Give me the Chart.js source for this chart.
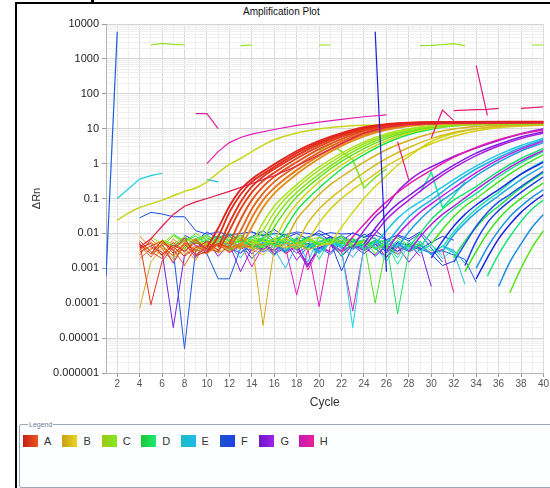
<!DOCTYPE html>
<html>
<head>
<meta charset="utf-8">
<title>Amplification Plot</title>
<script src="https://cdn.jsdelivr.net/npm/chart.js@4.4.1/dist/chart.umd.min.js"></script>
<style>
    html, body { margin: 0; padding: 0; background: #fff; }
    body { width: 550px; height: 488px; position: relative; overflow: hidden; font-family: "Liberation Sans", Arial, sans-serif; }
    #frame { position: absolute; left: 15px; top: 2px; width: 560px; height: 500px; border-top: 2px solid #000; border-left: 2px solid #000; }
    #mark { position: absolute; left: 91px; top: 0; width: 3px; height: 3px; background: #000; }
    #title { position: absolute; left: 243px; top: 6px; font-size: 10px; line-height: 12px; color: #111; }
    #plot { position: absolute; left: 0; top: 0; }
    #legend { position: absolute; left: 19px; top: 424px; width: 545px; height: 62px; border: 1px solid #9ba7b6; border-radius: 2px; background: #fdfeff; }
    #legend .cap { position: absolute; left: 8px; top: -5px; font-size: 7px; line-height: 9px; padding: 0 1px; background: #fff; color: #6a7d9c; }
    #legend .item { position: absolute; top: 10px; height: 12px; }
    #legend .swatch { position: absolute; left: 0; top: 0; width: 15px; height: 12px; }
    #legend .name { position: absolute; left: 21px; top: -1px; font-size: 11px; line-height: 14px; color: #333; }
</style>
</head>
<body>
<div id="frame"></div>
<div id="mark"></div>
<div id="title">Amplification Plot</div>
<canvas id="plot" width="550" height="420"></canvas>
<div id="legend"><span class="cap">Legend</span></div>

<script>
// Plate rows shown in the legend
const rows = ['A', 'B', 'C', 'D', 'E', 'F', 'G', 'H'];

// Baseline noise before take-off: [well, first cycle, ΔRn per cycle]
const baselineNoise = [
    ['A1', 4, [3.8e-3, 5.2e-3, 2.4e-3, 4.6e-3, 3.1e-3, 5.5e-3, 3.6e-3]],
    ['A2', 4, [4.9e-3, 2.6e-3, 6.3e-3, 3.2e-3, 7.4e-3, 2.3e-3, 3.0e-3]],
    ['A3', 4, [5.5e-3, 9e-5, 1.6e-3, 4.1e-3, 2.2e-3, 3.9e-3, 5.8e-3, 3.3e-3]],
    ['A4', 4, [6.1e-3, 3.0e-3, 1.9e-3, 5.6e-3, 2.9e-3, 6.6e-3, 3.6e-3, 3.0e-3]],
    ['A5', 4, [2.9e-3, 4.4e-3, 5.9e-3, 2.7e-3, 4.8e-3, 2.5e-3, 3.9e-3, 5.1e-3, 4.0e-3]],
    ['A7', 4, [4.6e-3, 2.1e-3, 5.2e-3, 3.5e-3, 1.2e-3, 4.2e-3, 3.1e-3, 4.7e-3, 3.0e-3, 4.6e-3]],
    ['A8', 4, [2.4e-3, 6.8e-3, 3.7e-3, 1.5e-3, 4.3e-3, 7.0e-3, 2.8e-3, 5.0e-3, 4.0e-3]],
    ['A9', 4, [1.9e-3, 3.6e-3, 4.5e-3, 2.2e-3, 5.4e-3, 3.4e-3, 2.6e-3, 4.9e-3, 3.7e-3, 5.0e-3, 4.0e-3]],
    ['A11', 4, [3.3e-3, 5.7e-3, 2.8e-3, 3.9e-3, 6.2e-3, 2.9e-3, 4.6e-3, 3.4e-3, 5.3e-3, 3.8e-3, 4.4e-3, 5.0e-3]],
    ['A12', 4, [8.2e-3, 4.0e-3, 2.3e-3, 6.9e-3, 3.8e-3, 1.7e-3, 5.9e-3, 3.2e-3, 6.1e-3, 4.0e-3]],
    ['B1', 4, [7e-5, 1.5e-3, 3.8e-3, 2.4e-3, 4.9e-3, 3.1e-3, 5.4e-3, 2.7e-3, 4.5e-3, 3.6e-3, 5.9e-3, 2.3e-5, 3.9e-3, 5.2e-3, 4.4e-3]],
    ['B4', 5, [2.6e-3, 4.3e-3, 1.8e-3, 5.0e-3, 3.5e-3, 4.7e-3, 2.9e-3, 3.6e-3, 5.2e-3, 4.0e-3, 3.2e-3, 5.5e-3, 4.3e-3, 3.7e-3, 5.0e-3]],
    ['B6', 4, [4.8e-3, 3.4e-3, 5.6e-3, 4.0e-3, 2.5e-3, 4.4e-3, 3.2e-3, 5.7e-3, 3.0e-3, 4.9e-3, 3.6e-3, 2.4e-3, 4.7e-3, 3.9e-3, 5.1e-3, 3.3e-3, 4.5e-3, 5.0e-3]],
    ['C1', 5, [4.5e-3, 6.2e-3, 3.9e-3, 5.8e-3, 7.1e-3, 4.6e-3, 6.5e-3, 5.2e-3, 7.6e-3, 4.9e-3, 6.0e-3, 5.4e-3, 7.3e-3, 4.4e-3, 6.8e-3, 5.5e-3, 4.8e-3]],
    ['C3', 5, [7.8e-3, 5.1e-3, 9.2e-3, 4.3e-3, 6.7e-3, 8.8e-3, 3.9e-3, 7.1e-3, 5.3e-3, 4.0e-3]],
    ['C4', 6, [6.5e-3, 5.0e-3, 8.0e-3, 5.6e-3, 4.2e-3, 6.9e-3, 5.3e-3, 7.9e-3, 6.1e-3, 4.5e-3, 7.0e-3, 5.8e-3, 3.9e-3, 6.4e-3, 7.7e-3, 5.1e-3, 6.6e-3, 4.7e-3, 5.9e-3]],
    ['C7', 7, [5.2e-3, 3.5e-3, 6.0e-3, 8.5e-3, 5.5e-3, 4.1e-3, 7.2e-3, 6.3e-3, 4.0e-3, 5.7e-3, 7.4e-3, 5.0e-3, 6.7e-3, 4.3e-3, 5.6e-3, 8.1e-3, 5.3e-3, 6.1e-3, 3.6e-3, 5.5e-3]],
    ['C8', 6, [4.1e-3, 8.6e-3, 5.7e-3, 1.0e-2, 6.3e-3, 4.7e-3, 8.0e-3, 5.9e-3, 3.7e-3, 4.0e-3]],
    ['C10', 8, [3.8e-3, 5.9e-3, 4.7e-3, 6.8e-3, 3.3e-3, 5.1e-3, 6.5e-3, 4.6e-3, 7.3e-3, 5.6e-3, 3.5e-3, 6.2e-3, 4.9e-3, 7.0e-3, 5.4e-3, 4.0e-3, 6.0e-3, 1.0e-4, 4.4e-3, 2.6e-3]],
    ['C11', 12, [6.3e-3, 8.9e-3, 4.6e-3, 7.1e-3, 5.3e-3, 9.6e-3, 6.0e-3, 3.4e-3, 7.7e-3, 5.5e-3, 8.4e-3, 4.2e-3, 6.6e-3, 2.6e-3, 5.8e-3, 7.4e-3, 4.4e-3, 5.0e-3]],
    ['D2', 6, [5.8e-3, 4.4e-3, 7.0e-3, 5.1e-3, 6.4e-3, 8.3e-3, 4.9e-3, 6.1e-3, 5.5e-3, 7.2e-3, 4.6e-3, 6.8e-3, 5.3e-3, 7.5e-3, 4.8e-3, 6.2e-3, 5.0e-3, 6.9e-3, 4.5e-3, 5.7e-3, 6.3e-3]],
    ['D3', 7, [9.5e-3, 6.1e-3, 8.3e-3, 5.0e-3, 7.7e-3, 9.9e-3, 6.6e-3, 4.4e-3, 3.9e-3]],
    ['D5', 9, [6.0e-3, 7.5e-3, 4.8e-3, 6.6e-3, 5.2e-3, 8.2e-3, 5.9e-3, 4.5e-3, 6.9e-3, 5.4e-3, 7.8e-3, 4.9e-3, 6.3e-3, 5.7e-3, 7.1e-3, 4.2e-3, 6.5e-3, 5.5e-3, 5.0e-5, 3.0e-3, 4.6e-3]],
    ['D6', 10, [5.0e-3, 8.8e-3, 6.2e-3, 4.0e-3, 7.6e-3, 9.4e-3, 5.5e-3, 3.1e-3, 8.0e-3, 6.6e-3, 4.5e-3, 7.2e-3, 2.2e-3, 6.0e-3, 8.5e-3, 3.6e-3, 5.2e-3, 4.0e-3]],
    ['D8', 10, [4.1e-3, 6.7e-3, 5.3e-3, 3.7e-3, 6.0e-3, 7.6e-3, 4.4e-3, 5.8e-3, 6.9e-3, 3.9e-3, 5.5e-3, 7.3e-3, 4.8e-3, 6.4e-3, 3.6e-3, 5.9e-3, 4.5e-3, 2.0e-3, 6.1e-3, 3.2e-3, 4.8e-3, 2.4e-3]],
    ['D9', 11, [7.3e-3, 4.9e-3, 9.0e-3, 6.1e-3, 3.8e-3, 7.0e-3, 8.6e-3, 5.2e-3, 6.7e-3, 1.8e-3, 6.4e-3, 8.0e-3, 4.7e-3, 5.9e-3, 7.5e-3, 3.3e-3, 6.2e-3, 4.0e-3]],
    ['D11', 12, [5.5e-3, 4.0e-3, 6.8e-3, 5.0e-3, 7.2e-3, 4.6e-3, 6.1e-3, 3.8e-3, 5.9e-3, 7.0e-3, 4.3e-3, 5.6e-3, 6.6e-3, 3.4e-3, 5.2e-3, 1.3e-3, 4.7e-3, 6.0e-3, 3.1e-3, 4.2e-3, 2.7e-3]],
    ['E1', 8, [4.4e-3, 5.6e-3, 3.6e-3, 6.2e-3, 4.8e-3, 2.9e-3, 5.5e-3, 4.1e-3, 6.6e-3, 3.4e-3, 5.0e-3, 4.5e-3, 2.6e-3, 5.8e-3, 3.9e-3, 2.0e-5, 4.6e-3, 5.3e-3, 3.2e-3, 6.0e-3, 4.0e-3, 2.8e-3, 4.9e-3, 1.9e-3, 3.5e-3]],
    ['E3', 9, [7.0e-3, 9.1e-3, 5.4e-3, 8.2e-3, 6.0e-3, 3.3e-3, 7.6e-3, 9.6e-3, 5.2e-3, 6.8e-3, 1.5e-3, 8.4e-3, 5.6e-3, 7.3e-3, 4.2e-3, 5.0e-3]],
    ['E4', 12, [5.0e-3, 3.8e-3, 6.4e-3, 4.4e-3, 2.3e-3, 5.3e-3, 4.0e-3, 6.1e-3, 3.0e-3, 5.6e-3, 4.7e-3, 3.3e-3, 6.0e-3, 4.2e-3, 1.6e-3, 5.1e-3, 3.6e-3, 5.5e-3, 2.4e-3, 4.3e-3, 3.0e-3, 3.5e-4]],
    ['E6', 10, [3.0e-3, 6.1e-3, 4.3e-3, 2.0e-3, 5.4e-3, 7.0e-3, 3.6e-3, 1.0e-3, 4.8e-3, 6.4e-3, 2.7e-3, 5.2e-3, 4.0e-3, 7.4e-3, 3.3e-3, 5.0e-3]],
    ['E7', 14, [3.7e-3, 5.4e-3, 4.5e-3, 2.8e-3, 6.0e-3, 4.9e-3, 3.4e-3, 5.7e-3, 4.2e-3, 2.1e-3, 5.2e-3, 3.9e-3, 6.3e-3, 4.6e-3, 3.1e-3, 5.0e-3, 2.5e-3, 4.4e-3, 3.3e-3, 1.4e-3]],
    ['F4', 4, [2.8e-2, 4.0e-2, 3.6e-2, 3.0e-2, 3.0e-2, 1.2e-2, 9.5e-3, 1.1e-2, 9.0e-3, 1.0e-2, 1.1e-2, 8.5e-3, 1.0e-2, 9.2e-3, 1.1e-2, 1.0e-2, 8.8e-3, 1.05e-2, 9.6e-3, 1.0e-2, 8.0e-3, 9.0e-3, 6.5e-3]],
    ['F2', 7, [3.1e-3, 5e-6, 3.5e-3, 2.6e-3, 5e-4, 5e-4, 3.8e-3, 5.3e-3, 2.9e-3, 4.6e-3, 6.1e-3, 3.4e-3, 5.2e-3, 4.0e-3, 2.5e-3, 5.6e-3, 3.7e-3, 4.8e-3, 2.2e-3, 4.3e-3, 3.0e-3, 5.1e-3, 3.6e-3, 2.7e-3, 3.2e-3, 2.4e-3, 1.8e-3, 4.0e-4]],
    ['F3', 8, [8.9e-3, 6.0e-3, 1.1e-2, 7.2e-3, 9.6e-3, 5.8e-3, 8.1e-3, 1.2e-2, 6.5e-3, 9.0e-3, 4.9e-3, 7.9e-3, 1.0e-2, 6.2e-3, 8.6e-3, 5.5e-3, 9.4e-3, 7.0e-3, 4.1e-3, 8.3e-3, 6.1e-3, 9.8e-3, 3.8e-3, 1.5e-3]],
    ['F5', 10, [6.2e-3, 4.4e-3, 5.8e-3, 7.5e-3, 4.0e-3, 6.6e-3, 5.1e-3, 3.2e-3, 6.9e-3, 4.7e-3, 5.5e-3, 7.8e-3, 3.6e-3, 5.9e-3, 4.2e-3, 6.4e-3, 2.8e-3, 5.3e-3, 4.6e-3, 3.4e-3, 5.7e-3]],
    ['F6', 9, [2.3e-3, 4.5e-3, 6.9e-3, 3.4e-3, 5.2e-3, 1.9e-3, 4.0e-3, 6.3e-3, 2.8e-3, 7.3e-3, 4.6e-3, 3.0e-3, 5.8e-3, 8.4e-4, 4.4e-3, 6.6e-3, 3.7e-3, 2.1e-3, 5.5e-3, 3.2e-3, 4.7e-3, 2.5e-3, 1.2e-3, 1.6e-3]],
    ['F8', 14, [1.1e-2, 8.5e-3, 1.3e-2, 7.5e-3, 1.0e-2, 6.8e-3, 1.2e-2, 8.2e-3, 5.9e-3, 1.05e-2, 7.6e-3, 1.25e-2, 6.6e-3, 9.0e-3, 7.0e-3, 1.1e-2, 5.5e-3, 8.2e-3, 6.4e-3]],
    ['G1', 5, [4.2e-3, 2.9e-3, 2.0e-5, 2.4e-3, 4.6e-3, 3.3e-3, 5.0e-3, 3.8e-3, 2.7e-3, 4.9e-3, 3.5e-3, 5.3e-3, 2.9e-3, 4.4e-3, 1.2e-3, 3.9e-3, 5.1e-3, 3.2e-3, 4.5e-3, 2.6e-3, 4.8e-3, 3.6e-3, 5.2e-3, 3.0e-3, 4.1e-3, 3.0e-4]],
    ['G2', 5, [2.5e-3, 4.8e-3, 1.4e-3, 5.6e-3, 3.1e-3, 6.4e-3, 2.2e-3, 4.9e-3, 8.0e-4, 3.8e-3, 5.5e-3, 2.6e-3, 6.0e-3, 3.4e-3, 1.1e-3, 4.7e-3, 2.9e-3, 5.3e-3, 4.0e-3]],
    ['G4', 12, [3.6e-3, 5.4e-3, 2.6e-3, 4.7e-3, 3.3e-3, 5.9e-3, 1.7e-3, 4.3e-3, 3.0e-3, 5.1e-3, 2.3e-3, 4.6e-3, 3.8e-3, 5.6e-3, 2.9e-3, 4.2e-3, 1.5e-3, 3.7e-3]],
    ['G5', 6, [6.6e-3, 3.9e-3, 7.9e-3, 4.6e-3, 2.7e-3, 6.2e-3, 8.7e-3, 3.5e-3, 5.8e-3, 7.2e-3, 2.4e-3, 5.1e-3, 6.9e-3, 3.2e-3, 5.7e-3, 8.1e-3, 4.0e-3]],
    ['G7', 15, [4.9e-3, 3.1e-3, 5.5e-3, 2.7e-3, 4.3e-3, 3.5e-3, 5.8e-3, 2.2e-3, 4.5e-3, 3.2e-3, 5.0e-3, 3.9e-3, 2.5e-3, 4.7e-3]],
    ['H2', 10, [3.5e-3, 5.1e-3, 2.8e-3, 4.4e-3, 3.2e-3, 4.9e-3, 2.5e-3, 4.0e-3, 1.7e-4, 3.6e-3, 8e-5, 4.5e-3, 3.0e-3, 6e-5, 3.9e-3, 2.4e-3, 4.6e-3, 3.1e-3, 5.0e-3, 2.2e-3]],
    ['H4', 8, [5.3e-3, 2.0e-3, 4.6e-3, 6.8e-3, 2.9e-3, 5.0e-3, 1.1e-3, 4.2e-3, 6.0e-3, 3.0e-3, 5.6e-3, 9.0e-4, 3.8e-3, 3.0e-3]],
    ['H6', 14, [4.6e-3, 3.3e-3, 5.5e-3, 2.6e-3, 4.2e-3, 1.3e-3, 3.7e-3, 5.2e-3, 2.9e-3, 4.5e-3, 3.4e-3, 5.0e-3, 2.1e-3, 4.0e-3, 3.1e-3, 4.7e-3, 2.7e-3, 3.5e-3, 2.0e-4]],
];

// Amplification curves from take-off: [well, [[cycle, ΔRn], ...]]
const curvesA = [
    ['A1', [[10, 4e-3], [11, 1.4e-2], [12, 6e-2], [13, 0.18], [14, 0.36], [15, 0.6], [16, 0.95], [18, 2.3], [20, 4.5], [22, 7.5], [24, 11], [26, 13.5], [28, 14.8], [31, 15.5], [40, 15.8]]],
    ['A2', [[10, 3e-3], [11, 8e-3], [12, 4e-2], [13, 0.13], [14, 0.3], [15, 0.5], [16, 0.8], [18, 2], [20, 4], [22, 7], [24, 10.5], [26, 13], [28, 14.5], [31, 15.3], [40, 15.6]]],
    ['A3', [[11, 4e-3], [12, 2e-2], [13, 8e-2], [14, 0.22], [15, 0.42], [16, 0.7], [18, 1.7], [20, 3.6], [22, 6.5], [24, 10], [26, 12.8], [28, 14.2], [31, 15], [40, 15.4]]],
    ['A4', [[11, 3e-3], [12, 1.2e-2], [13, 5e-2], [14, 0.15], [15, 0.32], [16, 0.55], [18, 1.4], [20, 3.1], [22, 5.8], [24, 9.2], [26, 12.2], [28, 13.9], [31, 14.8], [40, 15.2]]],
    ['A6', [[12, 5e-3], [13, 2.5e-2], [14, 9e-2], [15, 0.22], [16, 0.42], [18, 1.1], [20, 2.6], [22, 5], [24, 8.5], [26, 11.6], [28, 13.5], [31, 14.6], [40, 15]]],
    ['A8', [[12, 4e-3], [13, 1.2e-2], [14, 5e-2], [15, 0.14], [16, 0.3], [18, 0.85], [20, 2.1], [22, 4.3], [24, 7.6], [26, 10.8], [28, 13], [31, 14.4], [40, 14.8]]],
    ['A10', [[13, 6e-3], [14, 2.8e-2], [15, 9e-2], [16, 0.2], [18, 0.65], [20, 1.7], [22, 3.7], [24, 6.8], [26, 10], [28, 12.5], [31, 14.2], [40, 14.8]]],
    ['A12', [[13, 4e-3], [14, 1.5e-2], [15, 5.5e-2], [16, 0.14], [18, 0.5], [20, 1.4], [22, 3.2], [24, 6], [26, 9.3], [28, 12], [31, 14], [40, 14.6]]],
];

const curvesB = [
    ['B12', [[2, 2.4e-2], [3, 3.8e-2], [4, 5.5e-2], [5, 7e-2], [6, 9e-2], [7, 0.12], [8, 0.16], [9, 0.2], [10, 0.3], [11, 0.55], [12, 0.95], [13, 1.4], [14, 2.2], [15, 3.4], [16, 4.8], [18, 7.5], [20, 9.8], [22, 11.5], [24, 12.5], [26, 13], [30, 13.5], [40, 14]]],
    ['B2', [[17, 6e-3], [18, 2.5e-2], [19, 6e-2], [20, 0.13], [21, 0.25], [22, 0.42], [24, 1.1], [26, 2.5], [28, 4.6], [30, 7.3], [32, 9.8], [34, 11.6], [36, 12.6], [40, 13.2]]],
    ['B5', [[18, 5e-3], [19, 2e-2], [20, 5e-2], [21, 0.1], [22, 0.18], [24, 0.55], [26, 1.4], [28, 2.9], [30, 5.2], [32, 7.8], [34, 10], [36, 11.6], [38, 12.5], [40, 13]]],
    ['B8', [[19, 6e-3], [20, 2e-2], [21, 5e-2], [22, 0.1], [23, 0.18], [24, 0.3], [26, 0.85], [28, 1.9], [30, 3.7], [32, 6.1], [34, 8.6], [36, 10.6], [38, 11.9], [40, 12.6]]],
    ['B10', [[21, 5e-3], [22, 1.5e-2], [23, 4e-2], [24, 0.1], [25, 0.22], [26, 0.45], [27, 0.9], [28, 1.6], [30, 4.3], [32, 7.3], [34, 9.8], [36, 11.5], [38, 12.4], [40, 12.8]]],
];

const curvesC = [
    ['C2', [[14, 5e-3], [15, 2e-2], [16, 6e-2], [17, 0.13], [18, 0.25], [20, 0.8], [22, 2], [24, 4.2], [26, 7.2], [28, 10], [30, 12.2], [32, 13.4], [35, 14.2], [40, 14.5]]],
    ['C3', [[14, 4e-3], [15, 1.2e-2], [16, 4e-2], [17, 0.1], [18, 0.2], [20, 0.65], [22, 1.7], [24, 3.7], [26, 6.5], [28, 9.4], [30, 11.8], [32, 13.2], [35, 14], [40, 14.4]]],
    ['C5', [[15, 6e-3], [16, 2.5e-2], [17, 7e-2], [18, 0.15], [20, 0.5], [22, 1.4], [24, 3.2], [26, 5.9], [28, 8.9], [30, 11.4], [32, 12.9], [35, 13.9], [40, 14.3]]],
    ['C8', [[15, 4e-3], [16, 1.5e-2], [17, 4.5e-2], [18, 0.11], [20, 0.4], [22, 1.15], [24, 2.7], [26, 5.2], [28, 8.2], [30, 10.9], [32, 12.6], [35, 13.8], [40, 14.2]]],
    ['B11', [[16, 6e-3], [17, 2.5e-2], [18, 7e-2], [20, 0.3], [22, 0.9], [24, 2.2], [26, 4.5], [28, 7.5], [30, 10.3], [32, 12.2], [35, 13.5], [40, 14]]],
    ['D3', [[16, 4e-3], [17, 1.4e-2], [18, 4.5e-2], [19, 0.1], [20, 0.2], [22, 0.7], [24, 1.8], [26, 3.9], [28, 6.8], [30, 9.7], [32, 11.9], [35, 13.4], [40, 14]]],
    ['C6', [[20, 2.4], [21, 3.6], [22, 2.2], [23, 1.3], [24, 0.2], [25, 0.4], [26, 0.7]]],
];

// Late wells, mostly rows D to H
const curvesLate = [
    ['H4', [[22, 3e-3], [23, 8e-3], [24, 1.8e-2], [25, 4e-2], [26, 8e-2], [27, 0.15], [28, 0.26], [30, 0.65], [32, 1.5], [34, 2.9], [36, 4.8], [38, 7], [40, 9.2]]],
    ['G5', [[23, 4e-3], [24, 1.2e-2], [25, 3e-2], [26, 6e-2], [27, 0.16], [28, 0.32], [29, 0.55], [30, 0.8], [32, 1.6], [34, 2.8], [36, 4.6], [38, 7.2], [40, 10]]],
    ['G2', [[24, 5e-3], [25, 1.4e-2], [26, 3.5e-2], [27, 7e-2], [28, 0.12], [30, 0.35], [32, 0.9], [34, 2], [36, 3.6], [38, 5.8], [40, 8.2]]],
    ['G8', [[24, 4e-3], [25, 1e-2], [26, 2.5e-2], [27, 5e-2], [28, 9e-2], [30, 0.28], [32, 0.75], [34, 1.7], [36, 3.2], [38, 5.2], [40, 7.5]]],
    ['E3', [[25, 5e-3], [26, 1.2e-2], [27, 2.7e-2], [28, 5e-2], [29, 8e-2], [30, 0.13], [32, 0.35], [34, 0.85], [36, 1.8], [38, 3.3], [40, 5.3]]],
    ['G11', [[26, 3e-3], [27, 9e-3], [28, 2e-2], [29, 4e-2], [30, 7e-2], [32, 0.2], [34, 0.55], [36, 1.3], [38, 2.6], [40, 4.4]]],
    ['E6', [[26, 5e-3], [27, 1.3e-2], [28, 3e-2], [29, 5.5e-2], [30, 9e-2], [32, 0.27], [34, 0.7], [36, 1.5], [38, 2.9], [40, 4.8]]],
    ['E9', [[27, 4e-3], [28, 1.1e-2], [29, 2.5e-2], [30, 5e-2], [31, 9e-2], [32, 0.15], [34, 0.45], [36, 1.1], [38, 2.3], [40, 4]]],
    ['D6', [[28, 4e-3], [29, 1e-2], [30, 2.5e-2], [31, 5e-2], [32, 9e-2], [33, 0.14], [34, 0.22], [36, 0.6], [38, 1.4], [40, 2.7]]],
    ['G9', [[28, 3e-3], [29, 8e-3], [30, 1.8e-2], [31, 3.5e-2], [32, 6e-2], [34, 0.18], [36, 0.5], [38, 1.2], [40, 2.4]]],
    ['D9', [[29, 4e-3], [30, 1.1e-2], [31, 2.6e-2], [32, 5e-2], [33, 8.5e-2], [34, 0.14], [36, 0.42], [38, 1.05], [40, 2.2]]],
    ['C11', [[30, 5e-3], [31, 1.3e-2], [32, 3e-2], [33, 6e-2], [34, 0.1], [36, 0.3], [38, 0.8], [40, 1.8]]],
    ['F9', [[30, 2e-3], [31, 6e-3], [32, 1.6e-2], [33, 3.5e-2], [34, 6.5e-2], [35, 0.11], [36, 0.18], [38, 0.5], [40, 1.1]]],
    ['D12', [[31, 4e-3], [32, 1.1e-2], [33, 2.5e-2], [34, 5e-2], [35, 9e-2], [36, 0.15], [38, 0.5], [40, 1.2]]],
    ['E8', [[31, 3e-3], [32, 9e-3], [33, 2e-2], [34, 4e-2], [35, 7e-2], [36, 0.12], [38, 0.35], [40, 0.85]]],
    ['F3', [[32, 1.5e-3], [33, 5e-3], [34, 1.6e-2], [35, 4e-2], [36, 8e-2], [37, 0.13], [38, 0.22], [40, 0.6]]],
    ['D4', [[32, 2e-3], [33, 6e-3], [34, 1.5e-2], [35, 3.3e-2], [36, 6e-2], [38, 0.2], [40, 0.55]]],
    ['F6', [[33, 1.2e-3], [34, 6e-3], [35, 2e-2], [36, 4.5e-2], [37, 8.5e-2], [38, 0.15], [40, 0.42]]],
    ['C12', [[33, 8e-4], [34, 3e-3], [35, 1e-2], [36, 2.6e-2], [37, 5.5e-2], [38, 0.1], [39, 0.17], [40, 0.28]]],
    ['E11', [[34, 1e-3], [35, 4e-3], [36, 1.2e-2], [37, 3e-2], [38, 6e-2], [39, 0.11], [40, 0.18]]],
    ['F10', [[34, 5e-4], [35, 2e-3], [36, 7e-3], [37, 1.8e-2], [38, 4e-2], [39, 7.5e-2], [40, 0.13]]],
    ['D7', [[35, 6e-4], [36, 2.5e-3], [37, 8e-3], [38, 2.2e-2], [39, 5e-2], [40, 9e-2]]],
    ['E12', [[36, 3e-4], [37, 1.5e-3], [38, 5e-3], [39, 1.5e-2], [40, 3.5e-2]]],
    ['C9', [[37, 2e-4], [38, 1e-3], [39, 4e-3], [40, 1.2e-2]]],
    ['D10', [[29, 0.15], [30, 0.57], [31, 5.5e-2], [32, 0.12], [33, 0.3]]],
];

// Odd wells: early drifters, spikes and stray segments
const oddTraces = [
    ['H12', [[4, 4e-3], [5, 7e-3], [6, 1.6e-2], [7, 3.5e-2], [8, 6e-2], [9, 8e-2], [10, 0.1], [12, 0.16], [14, 0.27], [16, 0.45], [18, 0.85], [20, 1.8], [22, 3.8], [24, 7.5], [26, 11], [28, 13.2], [32, 14.5], [40, 15]]],
    ['H3', [[10, 1.0], [11, 2.2], [12, 4], [13, 5.6], [14, 7], [16, 9.5], [18, 12.5], [20, 15.5], [22, 18.5], [24, 22], [26, 25]]],
    ['H5', [[9, 27], [10, 27], [11, 10]]],
    ['H8', [[27, 4.2], [28, 0.33]]],
    ['H8', [[30, 5.4], [31, 34], [32, 17]]],
    ['H9', [[32, 33], [33, 34], [34, 35], [35, 36], [36, 38]]],
    ['H7', [[34, 650], [35, 24]]],
    ['H9', [[38, 38], [39, 40], [40, 42]]],
    ['E2', [[2, 0.1], [3, 0.19], [4, 0.36], [5, 0.45], [6, 0.53]]],
    ['E5', [[10, 0.35], [11, 0.3]]],
    ['F1', [[1, 6e-4], [2, 6000]]],
    ['F11', [[25, 6000], [26, 8e-4]]],
];

// Saturated well seen only in short runs near the top
const topSegments = [
    [[5, 2500], [6, 2800], [7, 2600], [8, 2500]],
    [[13, 2400], [14, 2500]],
    [[20, 2500], [21, 2500]],
    [[29, 2400], [30, 2450], [31, 2550], [32, 2750], [33, 2400]],
    [[39, 2500], [40, 2500]],
];

// Hue span of each row, first well to twelfth
const rowHues = { A: [2, 34], B: [46, 64], C: [74, 112], D: [128, 166], E: [184, 206], F: [220, 242], G: [268, 292], H: [306, 346] };

function wellHue(id) {
    const span = rowHues[id[0]];
    const n = parseInt(id.slice(1), 10);
    return span[0] + (span[1] - span[0]) * (n - 1) / 11;
}

function wellColor(id) {
    const light = id[0] === 'B' ? 47 : 50;
    return `hsl(${wellHue(id).toFixed(1)}, 78%, ${light}%)`;
}

function lineSet(well, points, width, smooth) {
    return {
        label: well,
        data: points.map(p => ({ x: p[0], y: p[1] })),
        borderColor: wellColor(well),
        borderWidth: width,
        pointRadius: 0,
        fill: false,
        tension: 0,
        cubicInterpolationMode: smooth ? 'monotone' : 'default',
    };
}

// First dataset is drawn on top
const datasets = [];
oddTraces.forEach(([w, pts]) => datasets.push(lineSet(w, pts, 1.2, false)));
topSegments.forEach(pts => datasets.push(lineSet('C4', pts, 1.2, false)));
curvesA.forEach(([w, pts]) => datasets.push(lineSet(w, pts, 1.9, true)));
curvesC.forEach(([w, pts]) => datasets.push(lineSet(w, pts, 1.5, w !== 'C6')));
curvesB.forEach(([w, pts]) => datasets.push(lineSet(w, pts, 1.5, true)));
curvesLate.forEach(([w, pts]) => datasets.push(lineSet(w, pts, 1.5, w !== 'D10')));
baselineNoise.forEach(([w, c0, vals]) => {
    datasets.push(lineSet(w, vals.map((v, i) => [c0 + i, v]), 1, false));
});

function isDecade(v) {
    const e = Math.log10(v);
    return Math.abs(e - Math.round(e)) < 1e-6;
}

new Chart(document.getElementById('plot'), {
    type: 'line',
    data: { datasets },
    options: {
        responsive: false,
        animation: false,
        devicePixelRatio: 1,
        layout: { padding: { top: 24, right: 6, left: 0, bottom: 0 } },
        plugins: {
            legend: { display: false },
            tooltip: { enabled: false },
        },
        scales: {
            x: {
                type: 'linear',
                min: 1,
                max: 40,
                afterFit: scale => { scale.height = 47; },
                ticks: {
                    stepSize: 1,
                    autoSkip: false,
                    maxRotation: 0,
                    padding: 1,
                    color: '#555',
                    font: { family: 'Liberation Sans', size: 10 },
                    callback: v => (v % 2 === 0 ? String(v) : ''),
                },
                grid: {
                    color: ctx => (ctx.tick && ctx.tick.value % 2 === 0 ? '#d9d9d9' : '#eeeeee'),
                    tickColor: ctx => (ctx.tick && ctx.tick.value % 2 === 0 ? '#9a9a9a' : 'rgba(0,0,0,0)'),
                    tickLength: 4,
                },
                border: { color: '#b5b5b5' },
                title: {
                    display: true,
                    text: 'Cycle',
                    color: '#333',
                    font: { family: 'Liberation Sans', size: 12 },
                    padding: { top: 0, bottom: 10 },
                },
            },
            y: {
                type: 'logarithmic',
                min: 1e-6,
                max: 1e4,
                afterFit: scale => { scale.width = 106; },
                afterBuildTicks: scale => {
                    scale.ticks = scale.ticks.filter(t => {
                        const m = t.value / Math.pow(10, Math.floor(Math.log10(t.value) + 1e-9));
                        return Math.abs(m - Math.round(m)) < 1e-6;
                    });
                },
                ticks: {
                    autoSkip: false,
                    padding: 3,
                    color: '#222',
                    font: { family: 'Liberation Sans', size: 11 },
                    callback: v => (isDecade(v) ? Number('1e' + Math.round(Math.log10(v))).toString() : ''),
                },
                grid: {
                    color: ctx => (ctx.tick && isDecade(ctx.tick.value) ? '#d6d6d6' : '#efefef'),
                    tickColor: ctx => (ctx.tick && isDecade(ctx.tick.value) ? '#9a9a9a' : 'rgba(0,0,0,0)'),
                    tickLength: 4,
                },
                border: { color: '#b5b5b5' },
                title: {
                    display: true,
                    text: 'ΔRn',
                    color: '#333',
                    font: { family: 'Liberation Sans', size: 11 },
                    padding: { top: 30, bottom: 0 },
                },
            },
        },
    },
});

// Legend strip under the plot
const legendBox = document.getElementById('legend');
rows.forEach((row, i) => {
    const item = document.createElement('div');
    item.className = 'item';
    item.style.left = (3 + i * 39.4) + 'px';
    const sw = document.createElement('div');
    sw.className = 'swatch';
    const h0 = wellHue(row + '1');
    const h1 = wellHue(row + '6');
    sw.style.background = `linear-gradient(to right, hsl(${h0}, 78%, 44%), hsl(${h1}, 82%, 52%))`;
    const name = document.createElement('span');
    name.className = 'name';
    name.textContent = row;
    item.appendChild(sw);
    item.appendChild(name);
    legendBox.appendChild(item);
});
</script>
</body>
</html>
